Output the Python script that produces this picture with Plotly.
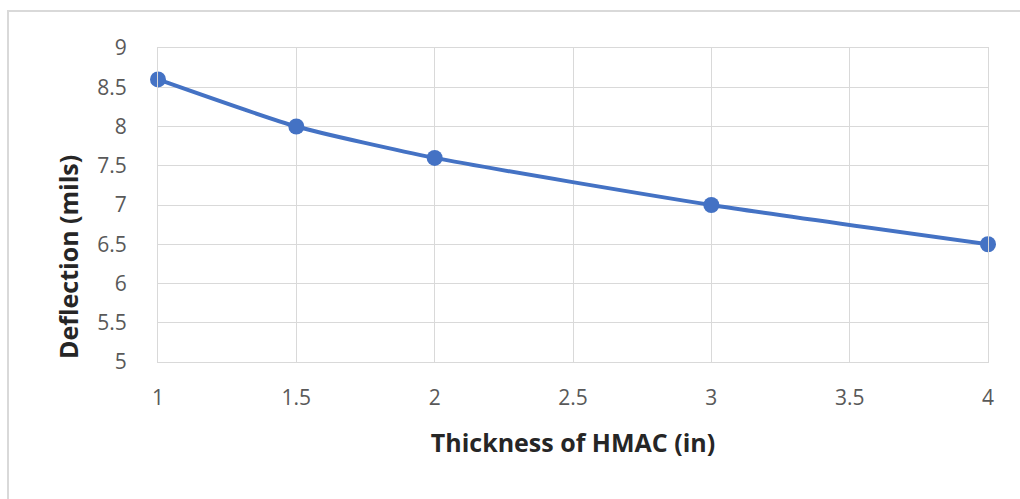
import plotly.graph_objects as go

thickness = [1, 1.5, 2, 3, 4]
deflection = [8.6, 8.0, 7.6, 7.0, 6.5]
x_ticks = [1, 1.5, 2, 2.5, 3, 3.5, 4]
y_ticks = [5, 5.5, 6, 6.5, 7, 7.5, 8, 8.5, 9]

L, R, T, B = 158, 32, 48, 137
W, H = 1020, 499
pw, ph = W - L - R, H - T - B

fig = go.Figure()
fig.add_trace(go.Scatter(
    x=thickness, y=deflection, mode="lines+markers",
    line=dict(color="#4472C4", width=4, shape="spline", smoothing=0.55),
    marker=dict(color="#4472C4", size=16),
    showlegend=False, cliponaxis=False,
))

tick_font = dict(family="Open Sans, sans-serif", size=21, color="#595959")
title_font = dict(family="Open Sans, sans-serif", size=25, color="#262626")

fig.update_layout(
    width=W, height=H,
    margin=dict(l=L, r=R, t=T, b=B, pad=0),
    paper_bgcolor="white", plot_bgcolor="white",
    font=dict(family="Open Sans, sans-serif", color="#595959", size=21),
    xaxis=dict(range=[1, 4], tickvals=x_ticks, ticktext=[f"{v:g}" for v in x_ticks],
               tickfont=tick_font,
               showgrid=True, gridcolor="#d9d9d9", gridwidth=1,
               showline=True, linecolor="#d9d9d9", linewidth=1, mirror=True,
               zeroline=False, ticks="", ticklabelstandoff=17,
               title=dict(text="<b>Thickness of HMAC (in)</b>",
                          font=title_font, standoff=24)),
    yaxis=dict(range=[5, 9], tickvals=y_ticks, ticktext=[f"{v:g}" for v in y_ticks],
               tickfont=tick_font,
               showgrid=True, gridcolor="#d9d9d9", gridwidth=1,
               showline=True, linecolor="#d9d9d9", linewidth=1, mirror=True,
               zeroline=False, ticks="", ticklabelstandoff=26),
)

# y-axis title, placed lower as in the reference
fig.add_annotation(text="<b>Deflection (mils)</b>", textangle=-90,
                   xref="paper", yref="paper",
                   x=(68 - L) / pw, y=(T + ph - 257) / ph,
                   xanchor="center", yanchor="middle", showarrow=False,
                   font=title_font)

# outer chart frame
fig.add_shape(type="rect", xref="paper", yref="paper",
              x0=(8 - L) / pw, x1=(W + 20 - L) / pw,
              y0=-(H + 20 - T - ph) / ph, y1=(T + ph - 11) / ph,
              line=dict(color="#d9d9d9", width=2), fillcolor="rgba(0,0,0,0)", layer="below")

fig.write_html("out.html")
